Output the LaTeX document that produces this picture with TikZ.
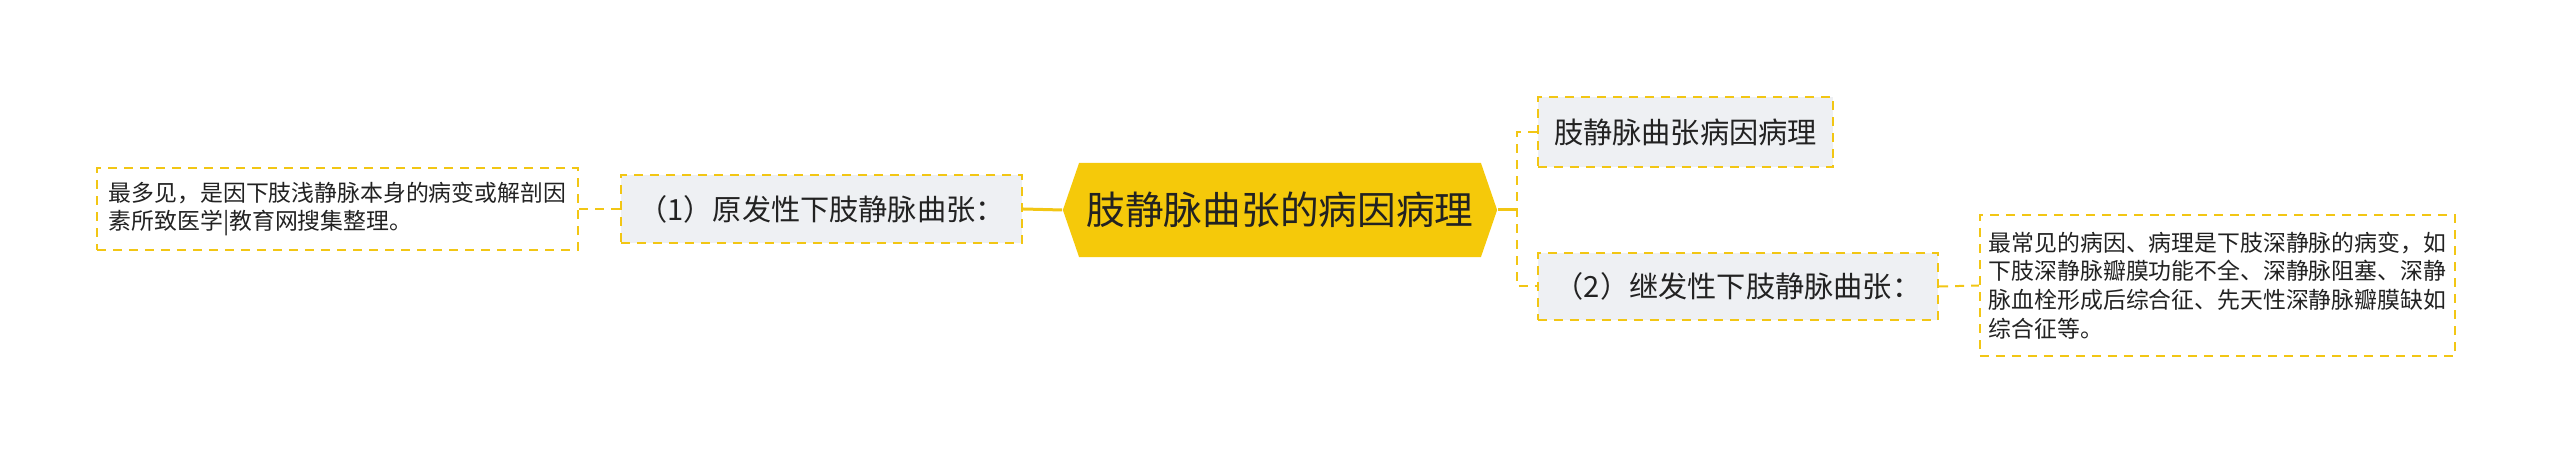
\documentclass[tikz,border=0pt]{standalone}
\usepackage{fontspec}
\setmainfont{Noto Sans CJK SC}
\usetikzlibrary{shapes.symbols}
\definecolor{gold}{RGB}{242,198,20}
\definecolor{rootfill}{RGB}{245,201,10}
\definecolor{boxfill}{RGB}{238,240,243}
\definecolor{ink}{RGB}{34,34,34}

\begin{document}
\begin{tikzpicture} [x=0.01cm, y=-0.01cm,
  main/.style = {signal, signal to=west and east, signal pointer angle=142, fill=rootfill, text=ink, inner sep=0pt, minimum width=4.34cm, minimum height=0.94cm, font=\fontsize{11pt}{13pt}\selectfont},
  sub/.style = {draw=gold, fill=boxfill, line width=0.02cm, dash pattern=on 0.09cm off 0.07cm, text=ink, inner sep=0pt, font=\fontsize{8.3pt}{10pt}\selectfont},
  leaf/.style = {draw=gold, fill=white, line width=0.02cm, dash pattern=on 0.09cm off 0.07cm, text=ink, inner sep=0pt, align=left, font=\fontsize{6.5pt}{8.2pt}\selectfont},
  link/.style = {draw=gold, line width=0.02cm, dash pattern=on 0.09cm off 0.07cm},
  trunk/.style = {draw=gold, line width=0.03cm}]
\useasboundingbox (0,0) rectangle (2560,455);
\node[main] (root) at (1280,210) {肢静脉曲张的病因病理};
% left branch
\node[sub, minimum width=4.01cm, minimum height=0.68cm] (prim) at (821.5,209) {（1）原发性下肢静脉曲张：};
\node[leaf, minimum width=4.81cm, minimum height=0.82cm] (primtxt) at (337.5,209) {最多见，是因下肢浅静脉本身的病变或解剖因\\素所致医学|教育网搜集整理。};
% right branches
\node[sub, minimum width=2.95cm, minimum height=0.70cm] (title) at (1685.5,132) {肢静脉曲张病因病理};
\node[sub, minimum width=4.00cm, minimum height=0.67cm] (sec) at (1738,286.5) {（2）继发性下肢静脉曲张：};
\node[leaf, minimum width=4.75cm, minimum height=1.41cm] (sectxt) at (2217.5,285.5) {最常见的病因、病理是下肢深静脉的病变，如\\下肢深静脉瓣膜功能不全、深静脉阻塞、深静\\脉血栓形成后综合征、先天性深静脉瓣膜缺如\\综合征等。};
\coordinate (fork) at (1517,210);
\draw[trunk] (root.west) -- (prim.east);
\draw[link] (prim.west) -- (primtxt.east);
\draw[trunk] (root.east) -- (fork);
\draw[link] (title.west) -| (fork) |- (sec.west);
\draw[link] (sec.east) -- (sectxt.west);
\end{tikzpicture}
\end{document}
